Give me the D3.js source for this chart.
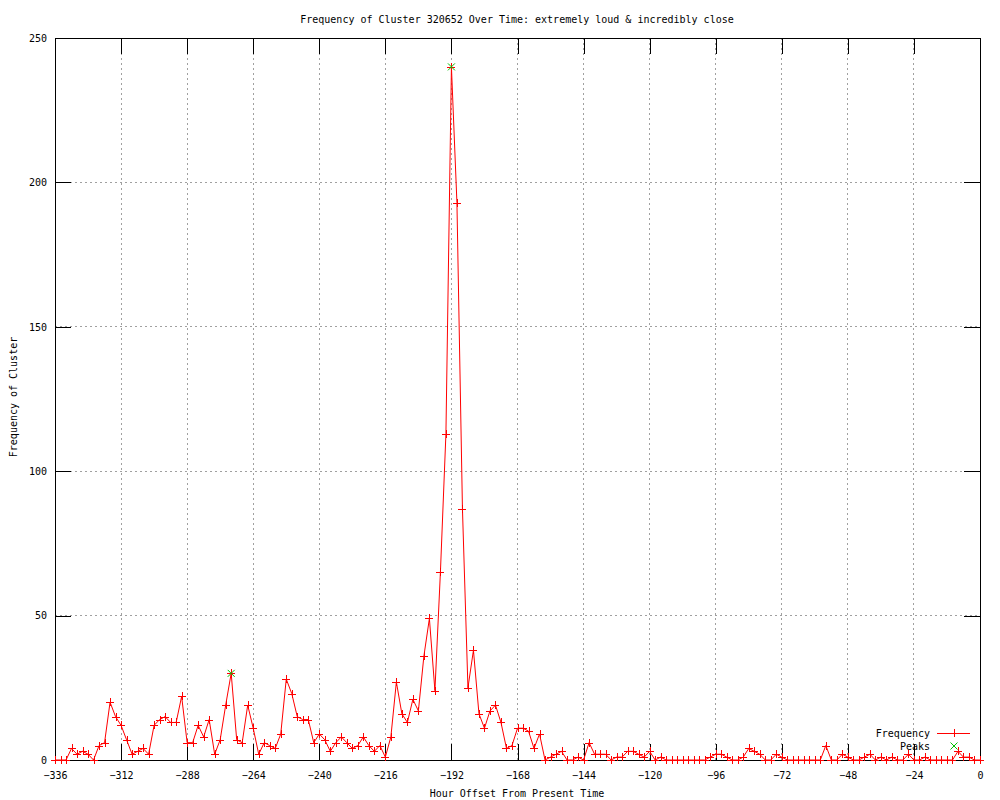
<!DOCTYPE html>
<html>
<head>
<meta charset="utf-8">
<script src="https://cdn.jsdelivr.net/npm/d3@7"></script>
<style>
body { margin: 0; background: #fff; }
svg { display: block; }
text { font-family: "DejaVu Sans Mono", "Liberation Mono", monospace; font-size: 10px; fill: #000; }
</style>
</head>
<body>
<svg id="chart" width="1000" height="800"></svg>
<script>
// ---- data ----
const hours = [
-336,-334,-332,-330,-328,-326,-324,-322,-320,-318,-316,-314,-312,-310,-308,-306,-304,-302,-300,-298,
-296,-294,-292,-290,-288,-286,-284,-282,-280,-278,-276,-274,-272,-270,-268,-266,-264,-262,-260,-258,
-256,-254,-252,-250,-248,-246,-244,-242,-240,-238,-236,-234,-232,-230,-228,-226,-224,-222,-220,-218,
-216,-214,-212,-210,-208,-206,-204,-202,-200,-198,-196,-194,-192,-190,-188,-186,-184,-182,-180,-178,
-176,-174,-172,-170,-168,-166,-164,-162,-160,-158,-156,-154,-152,-150,-148,-146,-144,-142,-140,-138,
-136,-134,-132,-130,-128,-126,-124,-122,-120,-118,-116,-114,-112,-110,-108,-106,-104,-102,-100,-98,
-96,-94,-92,-90,-88,-86,-84,-82,-80,-78,-76,-74,-72,-70,-68,-66,-64,-62,-60,-58,
-56,-54,-52,-50,-48,-46,-44,-42,-40,-38,-36,-34,-32,-30,-28,-26,-24,-22,-20,-18,
-16,-14,-12,-10,-8,-6,-4,-2,0
];
const frequency = [
0,0,0,4,2,3,2,0,5,6,20,15,12,7,2,3,4,2,12,14,
15,13,13,22,6,6,12,8,14,2,7,19,30,7,6,19,11,2,6,5,
4,9,28,23,15,14,14,6,9,7,3,6,8,6,4,5,8,5,3,5,
1,8,27,16,13,21,17,36,49,24,65,113,240,193,87,25,38,16,11,17,
19,13,4,5,11,11,10,4,9,0,1,2,3,0,0,1,0,6,2,2,
2,0,1,1,3,3,2,1,3,0,1,0,0,0,0,0,0,0,0,1,
2,2,1,0,0,1,4,3,2,0,0,2,1,0,0,0,0,0,0,0,
5,0,0,2,1,0,0,1,2,0,1,0,1,0,0,2,0,0,1,0,
0,0,0,0,3,1,1,0,0
];
const peakHours = [-272, -192];
const peakValues = [30, 240];
const xTicks = [-336,-312,-288,-264,-240,-216,-192,-168,-144,-120,-96,-72,-48,-24,0];
const yTicks = [0,50,100,150,200,250];

const titleText = "Frequency of Cluster 320652 Over Time: extremely loud & incredibly close";
const xLabel = "Hour Offset From Present Time";
const yLabel = "Frequency of Cluster";

// ---- layout ----
const L = 55, R = 980, T = 38, B = 760;
const svg = d3.select("#chart");
const x = d3.scaleLinear().domain([-336, 0]).range([L, R]);
const y = d3.scaleLinear().domain([0, 250]).range([B, T]);

// grid
const grid = svg.append("g").attr("stroke", "#a0a0a0").attr("stroke-dasharray", "2,3")
  .attr("shape-rendering", "crispEdges");
xTicks.filter(t => t > -336 && t < 0).forEach(t => {
  grid.append("line").attr("x1", x(t)).attr("x2", x(t)).attr("y1", T).attr("y2", B);
});
yTicks.filter(t => t > 0 && t < 250).forEach(t => {
  grid.append("line").attr("x1", L).attr("x2", R).attr("y1", y(t)).attr("y2", y(t));
});

// axes (ticks inward, mirrored)
const tickLen = 16;
const xAxisB = d3.axisBottom(x).tickValues(xTicks).tickSizeInner(-tickLen).tickSizeOuter(0).tickPadding(12).tickFormat(d3.format("d"));
const xAxisT = d3.axisTop(x).tickValues(xTicks).tickSizeInner(-tickLen).tickSizeOuter(0).tickFormat("");
const yAxisL = d3.axisLeft(y).tickValues(yTicks).tickSizeInner(-tickLen).tickSizeOuter(0).tickPadding(8).tickFormat(d3.format("d"));
const yAxisR = d3.axisRight(y).tickValues(yTicks).tickSizeInner(-tickLen).tickSizeOuter(0).tickFormat("");

function styleAxis(g) {
  g.select(".domain").remove();
  g.selectAll("line").attr("stroke", "#000").attr("shape-rendering", "crispEdges");
  g.selectAll("text").attr("fill", "#000");
  g.attr("font-family", null).attr("font-size", null);
}
svg.append("g").attr("transform", `translate(0,${B})`).call(xAxisB).call(styleAxis);
svg.append("g").attr("transform", `translate(0,${T})`).call(xAxisT).call(styleAxis);
svg.append("g").attr("transform", `translate(${L},0)`).call(yAxisL).call(styleAxis);
svg.append("g").attr("transform", `translate(${R},0)`).call(yAxisR).call(styleAxis);

// border
svg.append("rect").attr("x", L).attr("y", T).attr("width", R - L).attr("height", B - T)
  .attr("fill", "none").attr("stroke", "#000").attr("shape-rendering", "crispEdges");

// frequency line
const data = hours.map((h, i) => ({h: h, v: frequency[i]}));
const line = d3.line().x(d => x(d.h)).y(d => y(d.v));
svg.append("path").datum(data).attr("d", line).attr("fill", "none")
  .attr("stroke", "#ff0000").attr("stroke-width", 1);

// plus markers
const ps = 4;
const plus = svg.append("g").attr("stroke", "#ff0000").attr("stroke-width", 1).attr("shape-rendering", "crispEdges");
data.forEach(d => {
  const cx = Math.round(x(d.h)), cy = Math.round(y(d.v));
  plus.append("path").attr("d", `M${cx - ps},${cy}H${cx + ps}M${cx},${cy - ps}V${cy + ps}`);
});

// peaks (green x)
const xs = 3.5;
const peaks = svg.append("g").attr("stroke", "#00c000").attr("stroke-width", 1);
peakHours.forEach((h, i) => {
  const cx = x(h), cy = y(peakValues[i]);
  peaks.append("path").attr("d", `M${cx - xs},${cy - xs}L${cx + xs},${cy + xs}M${cx - xs},${cy + xs}L${cx + xs},${cy - xs}`);
});

// legend
svg.append("text").attr("x", 930).attr("y", 733).attr("text-anchor", "end").attr("dy", "0.35em").text("Frequency");
svg.append("line").attr("x1", 937).attr("x2", 970).attr("y1", 733).attr("y2", 733).attr("stroke", "#ff0000").attr("shape-rendering", "crispEdges");
svg.append("path").attr("d", `M${954 - ps},733H${954 + ps}M954,${733 - ps}V${733 + ps}`).attr("stroke", "#ff0000").attr("shape-rendering", "crispEdges");
svg.append("text").attr("x", 930).attr("y", 746).attr("text-anchor", "end").attr("dy", "0.35em").text("Peaks");
svg.append("path").attr("d", `M${954 - xs},${746 - xs}L${954 + xs},${746 + xs}M${954 - xs},${746 + xs}L${954 + xs},${746 - xs}`).attr("stroke", "#00c000");

// titles
svg.append("text").attr("x", 517).attr("y", 19).attr("text-anchor", "middle").attr("dy", "0.35em").text(titleText);
svg.append("text").attr("x", 517).attr("y", 793).attr("text-anchor", "middle").attr("dy", "0.35em").text(xLabel);
svg.append("text").attr("transform", "translate(13,397) rotate(-90)").attr("text-anchor", "middle").attr("dy", "0.35em").text(yLabel);
</script>
</body>
</html>
